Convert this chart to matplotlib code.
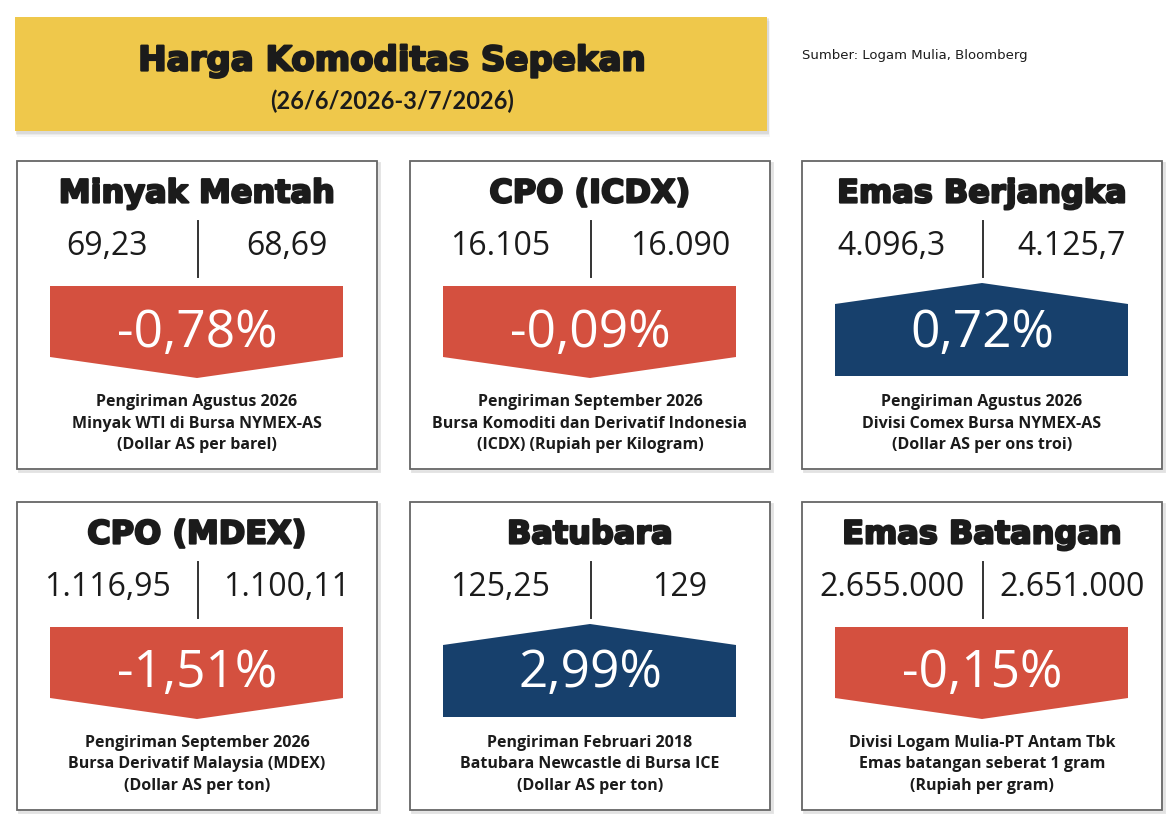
import matplotlib
matplotlib.use('Agg')
import matplotlib.pyplot as plt
from matplotlib.patches import Rectangle, Polygon
import matplotlib.patheffects as pe

# data
names = ['Minyak Mentah', 'CPO (ICDX)', 'Emas Berjangka',
         'CPO (MDEX)', 'Batubara', 'Emas Batangan']
prev_vals = ['69,23', '16.105', '4.096,3', '1.116,95', '125,25', '2.655.000']
last_vals = ['68,69', '16.090', '4.125,7', '1.100,11', '129', '2.651.000']
changes = [-0.78, -0.09, 0.72, -1.51, 2.99, -0.15]
notes = [
    ['Pengiriman Agustus 2026', 'Minyak WTI di Bursa NYMEX-AS', '(Dollar AS per barel)'],
    ['Pengiriman September 2026', 'Bursa Komoditi dan Derivatif Indonesia', '(ICDX) (Rupiah per Kilogram)'],
    ['Pengiriman Agustus 2026', 'Divisi Comex Bursa NYMEX-AS', '(Dollar AS per ons troi)'],
    ['Pengiriman September 2026', 'Bursa Derivatif Malaysia (MDEX)', '(Dollar AS per ton)'],
    ['Pengiriman Februari 2018', 'Batubara Newcastle di Bursa ICE', '(Dollar AS per ton)'],
    ['Divisi Logam Mulia-PT Antam Tbk', 'Emas batangan seberat 1 gram', '(Rupiah per gram)'],
]
title = 'Harga Komoditas Sepekan'
period = '(26/6/2026-3/7/2026)'
source = 'Sumber: Logam Mulia, Bloomberg'

RED = '#D4503F'
BLUE = '#17406C'
YELLOW = '#EFC84B'
INK = '#1b1b1b'

heavy = [pe.withStroke(linewidth=1.6, foreground=INK)]

fig = plt.figure(figsize=(11.74, 8.29), dpi=100)
ax = fig.add_axes([0, 0, 1, 1])
ax.set_xlim(0, 1174)
ax.set_ylim(829, 0)
ax.axis('off')

# header box with soft shadow
for i, a in enumerate([0.05, 0.07, 0.10]):
    d = 6 - i * 2
    ax.add_patch(Rectangle((15 + d * 0.3, 18 + d * 0.6), 753, 116, facecolor='#555555',
                           edgecolor='none', alpha=a))
ax.add_patch(Rectangle((15, 18), 752, 114, facecolor=YELLOW, edgecolor='none'))
ax.text(392, 62, title, ha='center', va='center', fontsize=24.5, color=INK,
        family='DejaVu Sans', weight='bold', path_effects=heavy)
ax.text(392, 101, period, ha='center', va='center', fontsize=17, color=INK,
        family=['Lato', 'DejaVu Sans'], weight='bold')
ax.text(802, 55, source, ha='left', va='center', fontsize=9.5, color=INK,
        family=['Liberation Sans Narrow', 'DejaVu Sans'])

col_x = [17, 410, 802]
row_y = [162, 503]
W, H = 360, 308

for k, name in enumerate(names):
    x0 = col_x[k % 3]
    y0 = row_y[k // 3]
    cx = x0 + 180

    # panel frame
    ax.add_patch(Rectangle((x0 + 2, y0 + 2), W, H, facecolor='none',
                           edgecolor='#e2e2e2', lw=2))
    ax.add_patch(Rectangle((x0, y0), W, H, facecolor='white',
                           edgecolor='#666666', lw=1.3))

    ax.text(cx, y0 + 33, name, ha='center', va='center', fontsize=23, color=INK,
            family='DejaVu Sans', weight='bold', path_effects=heavy)

    # previous / latest values
    ax.plot([cx + 1, cx + 1], [y0 + 60, y0 + 116], color='#333333', lw=1.4)
    ax.text(cx - 90, y0 + 84, prev_vals[k], ha='center', va='center', fontsize=23,
            color=INK, family=['Open Sans', 'DejaVu Sans'])
    ax.text(cx + 90, y0 + 84, last_vals[k], ha='center', va='center', fontsize=23,
            color=INK, family=['Open Sans', 'DejaVu Sans'])

    # arrow shape
    left, right = x0 + 33, x0 + 326
    if changes[k] < 0:
        pts = [(left, y0 + 125), (right, y0 + 125), (right, y0 + 196),
               (cx, y0 + 217), (left, y0 + 196)]
        col = RED
    else:
        pts = [(left, y0 + 143), (cx, y0 + 122), (right, y0 + 143),
               (right, y0 + 215), (left, y0 + 215)]
        col = BLUE
    ax.add_patch(Polygon(pts, closed=True, facecolor=col, edgecolor='none'))
    label = f'{changes[k]:.2f}'.replace('.', ',') + '%'
    ax.text(cx, y0 + 171, label, ha='center', va='center', fontsize=37, color='white',
            family=['Open Sans', 'DejaVu Sans'])

    for j, line in enumerate(notes[k]):
        ax.text(cx, y0 + 240 + j * 21.5, line, ha='center', va='center', fontsize=11.5,
                color=INK, family=['Open Sans', 'DejaVu Sans'], weight='bold')

fig.savefig('out.png', dpi=100, facecolor='white')
